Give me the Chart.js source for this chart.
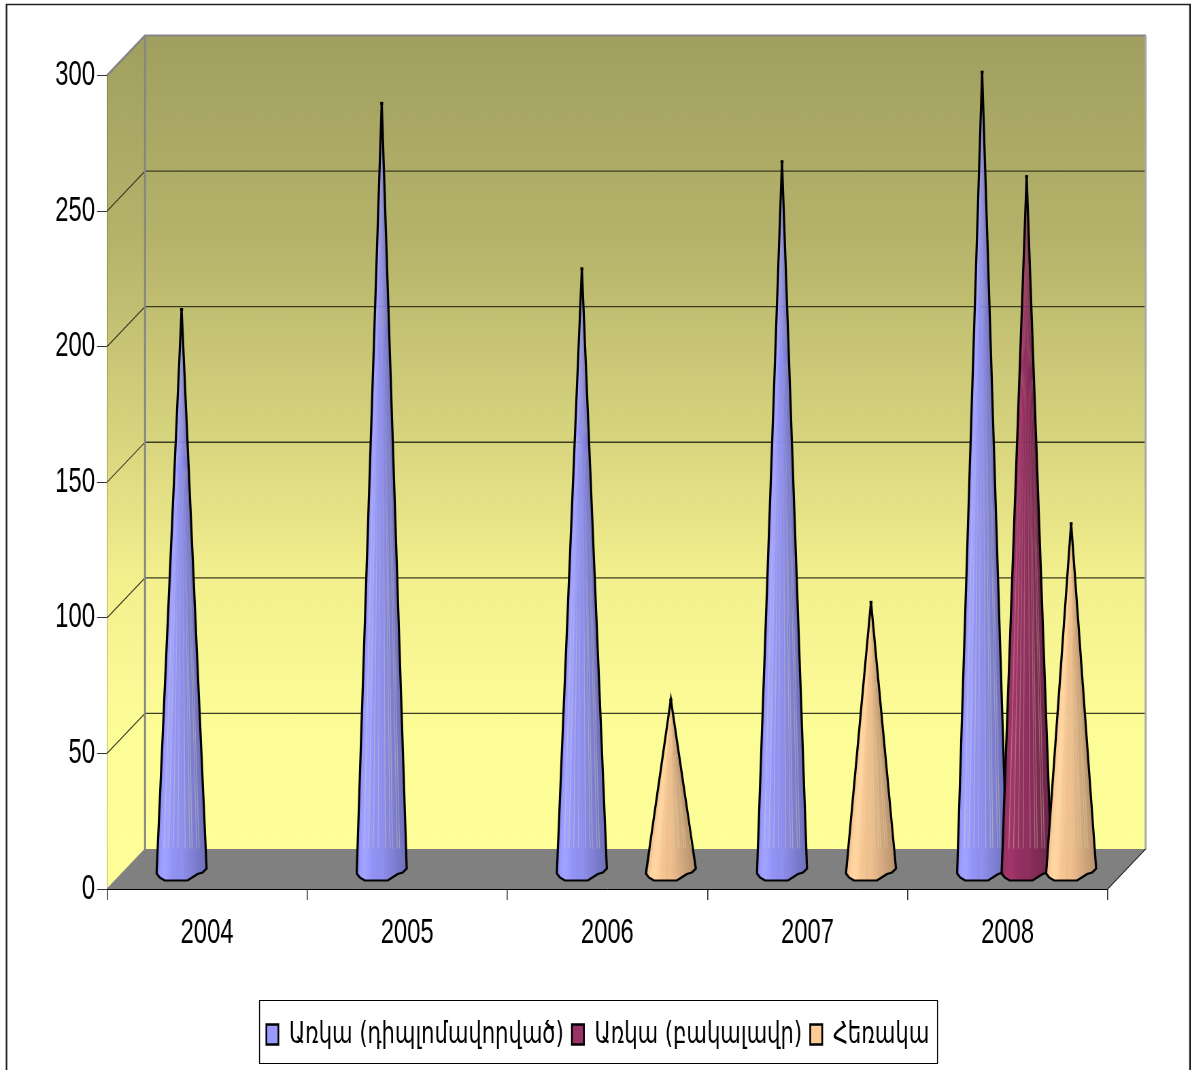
<!DOCTYPE html>
<html><head><meta charset="utf-8">
<style>html,body{margin:0;padding:0;background:#fff;overflow:hidden;width:1191px;height:1070px}
canvas{position:absolute;left:0;top:0;transform-origin:0 0;transform:scaleX(0.68)}</style>
<script src="https://cdn.jsdelivr.net/npm/chart.js@4"></script>
</head><body><canvas id="c" width="1751" height="1070"></canvas>
<script>
const categories = ['2004','2005','2006','2007','2008'];
const diploma  = [208,284,223,262.5,295.5];
const bachelor = [null,null,null,null,257];
const distance = [null,null,64,100,129];
const seriesNames = ['Առկա (դիպլոմավորված)','Առկա (բակալավր)','Հեռակա'];
const seriesColors = ['#9999ff','#993366','#ffcc99'];
const yMax = 300, yStep = 50;

const SX = 0.68;                 // canvas is squeezed horizontally by this factor
const px = v => v / SX;          // screen px to canvas px (x direction)
const depthX = 38, depthY = 40;  // 3D wall offset
const coneDX = 19, coneDY = 16;  // cones stand mid-way along the floor depth

function strokeEven(ctx, w, col){ // uniform pen width after the squeeze
  ctx.save(); ctx.setTransform(1/SX,0,0,1,0,0);
  ctx.lineWidth = w; ctx.strokeStyle = col; ctx.stroke(); ctx.restore();
}
function shade(rgb,f){ return 'rgb('+rgb.map(c=>Math.min(255,Math.round(c*f))).join(',')+')'; }
function hexRgb(h){ return [1,3,5].map(i=>parseInt(h.substr(i,2),16)); }
const shades = [.96,1.02,1.05,1.05,1.02,.98,.96,.95,.93,.94,.93,.9,.88,.86,.84,.82,.8,.78,.76,.74];
const stripes = [2,4,6,8,11,13,14,16,17];

// Bars become cones, painted in series order once all elements are laid out
Chart.BarElement.prototype.draw = function(){};
function drawCone(ctx, el){
  const rgb = hexRgb(el.options.backgroundColor);
  const cx = el.x + px(coneDX), tip = el.y - coneDY, by = el.base - coneDY + 1;
  const floorBack = el.base - depthY;
  const outline = [[-25,0],[-22,4],[-17,7],[6,7],[16,.5],[21,-1],[25,-5]];
  const L = px(-25), R = px(25), W = R - L;
  const pts = outline.map(p=>[cx+px(p[0]), by+p[1]]);
  const shape = ()=>{ ctx.beginPath(); ctx.moveTo(cx,tip); pts.forEach(p=>ctx.lineTo(p[0],p[1])); ctx.closePath(); };
  ctx.save();
  shape(); ctx.clip();
  const n = shades.length;
  for (let i=0;i<n;i++){
    const a = cx+L+W*i/n, b = cx+L+W*(i+1)/n + 1;
    ctx.beginPath(); ctx.moveTo(cx,tip); ctx.lineTo(a,by+12); ctx.lineTo(b,by+12); ctx.closePath();
    ctx.fillStyle = shade(rgb,shades[i]); ctx.fill();
  }
  const H = by+12-tip;
  const stop = (floorBack-tip)/H;
  const start = Math.min(stop,.35);
  stripes.forEach(i=>{
    const a = cx+L+W*(i+.5)/n;
    const g = ctx.createLinearGradient(0,tip+H*start,0,floorBack);
    g.addColorStop(0,'rgba(225,225,170,0)');
    g.addColorStop(.45,'rgba(225,225,170,.3)');
    g.addColorStop(1,'rgba(225,225,170,.38)');
    ctx.beginPath(); ctx.moveTo(cx+(a-cx)*start,tip+H*start); ctx.lineTo(cx+(a-cx)*stop,floorBack);
    ctx.lineWidth = 1.3; ctx.strokeStyle = g; ctx.stroke();
  });
  ctx.restore();
  shape(); strokeEven(ctx,2.2,'#000');
  ctx.fillStyle='#000'; ctx.fillRect(cx-px(1.5),tip-1,px(3),3);
}

const roomPlugin = { id:'room',
  beforeDraw(chart){
    const lg = chart.legend;              // centre the legend on the page, not the plot
    if (!lg._moved){ lg.left += px(44); lg.right += px(44); lg._moved = true; }
  },
  beforeDatasetsDraw(chart){
    const {ctx,chartArea:a,scales:{y}} = chart;
    const dx = px(depthX), dy = depthY;
    const g = ctx.createLinearGradient(0,a.top-dy,0,a.bottom-dy);
    [[0,'#a09f5f'],[.25,'#b5b36a'],[.5,'#d8d57f'],[.67,'#f3f08e'],[.85,'#fdfd98'],[1,'#ffff99']]
      .forEach(s=>g.addColorStop(s[0],s[1]));
    ctx.save();
    ctx.fillStyle = g;
    ctx.fillRect(a.left+dx,a.top-dy,a.right-a.left,a.bottom-a.top);
    ctx.beginPath();ctx.moveTo(a.left,a.top);ctx.lineTo(a.left+dx,a.top-dy);ctx.lineTo(a.left+dx,a.bottom-dy);ctx.lineTo(a.left,a.bottom);ctx.closePath();ctx.fill();
    ctx.fillStyle='#808080';
    ctx.beginPath();ctx.moveTo(a.left,a.bottom);ctx.lineTo(a.left+dx,a.bottom-dy);ctx.lineTo(a.right+dx,a.bottom-dy);ctx.lineTo(a.right,a.bottom);ctx.closePath();ctx.fill();
    y.ticks.forEach(t=>{
      if (t.value===0||t.value===yMax) return;
      const p = y.getPixelForValue(t.value);
      ctx.beginPath();ctx.moveTo(a.left+dx,p-dy);ctx.lineTo(a.right+dx,p-dy);strokeEven(ctx,1.3,'#3c3c20');
      ctx.beginPath();ctx.moveTo(a.left,p);ctx.lineTo(a.left+dx,p-dy);strokeEven(ctx,1,'#33331f');
    });
    ctx.beginPath();ctx.moveTo(a.left,a.top);ctx.lineTo(a.left+dx,a.top-dy);ctx.lineTo(a.right+dx,a.top-dy);strokeEven(ctx,2.2,'#858585');
    ctx.beginPath();ctx.moveTo(a.left+dx,a.top-dy);ctx.lineTo(a.left+dx,a.bottom-dy);strokeEven(ctx,2,'#858585');
    ctx.beginPath();ctx.moveTo(a.right+dx,a.top-dy);ctx.lineTo(a.right+dx,a.bottom-dy);strokeEven(ctx,2,'#a8a8a8');
    ctx.beginPath();ctx.moveTo(a.left,a.bottom);ctx.lineTo(a.left+dx,a.bottom-dy);strokeEven(ctx,1,'#808080');
    ctx.beginPath();ctx.moveTo(a.right,a.bottom);ctx.lineTo(a.right+dx,a.bottom-dy);strokeEven(ctx,1,'#111');
    ctx.restore();
  },
  afterDatasetsDraw(chart){
    const {ctx} = chart;
    chart.data.datasets.forEach((ds,d)=>{
      chart.getDatasetMeta(d).data.forEach((el,i)=>{ if (ds.data[i]!=null) drawCone(ctx,el); });
    });
  },
  afterDraw(chart){
    const {ctx} = chart;
    ctx.save();
    ctx.beginPath();ctx.moveTo(px(6.5),1072);ctx.lineTo(px(6.5),4.5);ctx.lineTo(px(1190),4.5);ctx.lineTo(px(1190),1072);strokeEven(ctx,1.6,'#222');
    ctx.beginPath();ctx.rect(px(259.5),1000.5,px(678),63);strokeEven(ctx,1,'#000');
    ctx.restore();
  }
};

new Chart(document.getElementById('c'),{
  type:'bar',
  data:{labels:categories,datasets:[
    {label:seriesNames[0],data:diploma, backgroundColor:seriesColors[0],borderColor:'#000',borderWidth:2.6},
    {label:seriesNames[1],data:bachelor,backgroundColor:seriesColors[1],borderColor:'#000',borderWidth:2.6},
    {label:seriesNames[2],data:distance,backgroundColor:seriesColors[2],borderColor:'#000',borderWidth:2.6}
  ]},
  plugins:[roomPlugin],
  options:{
    responsive:false,animation:false,devicePixelRatio:1,
    layout:{padding:{left:0,right:px(1191-1108),top:75.5,bottom:10}},
    datasets:{bar:{barPercentage:1,categoryPercentage:0.667}},
    plugins:{tooltip:{enabled:false},title:{display:false},
      legend:{position:'bottom',align:'center',
        labels:{color:'#000',boxWidth:px(12),boxHeight:20,padding:12,
          font:{family:'"DejaVu Sans","Liberation Sans"',size:31}}}},
    scales:{
      y:{min:0,max:yMax,
        ticks:{stepSize:yStep,color:'#000',padding:px(2),font:{family:'"Liberation Sans"',size:35}},
        grid:{drawOnChartArea:false,drawTicks:true,tickLength:px(10),color:'#333',lineWidth:1},
        border:{color:'#000',width:1.6},
        afterFit(s){s.width=px(107);}
      },
      x:{
        ticks:{color:'#000',padding:12,maxRotation:0,font:{family:'"Liberation Sans"',size:35}},
        grid:{drawOnChartArea:false,drawTicks:true,tickLength:11,color:'#333',lineWidth:1.6,offset:true},
        border:{color:'#000',width:1},
        afterFit(s){s.height=118;}
      }
    }
  }
});
</script></body></html>
